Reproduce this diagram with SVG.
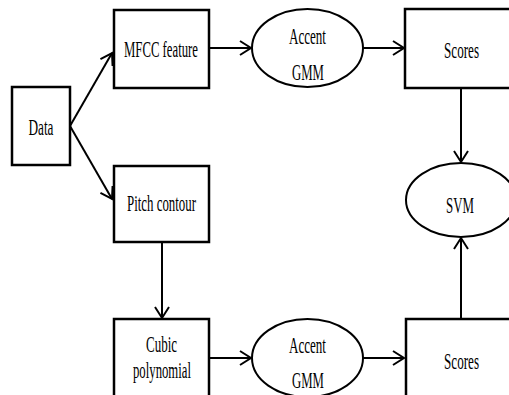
<svg xmlns="http://www.w3.org/2000/svg" width="509" height="395" viewBox="0 0 509 395">
<defs>
<style>
.box{fill:#fff;stroke:#000;stroke-width:2.5}
.ell{fill:#fff;stroke:#000;stroke-width:2}
.t{font-family:"Liberation Serif","Times New Roman",serif;font-size:23px;fill:#000;text-anchor:middle}
.c{fill:none;stroke:#000;stroke-width:2}
</style>
<marker id="ah" markerUnits="userSpaceOnUse" markerWidth="16" markerHeight="18" refX="12" refY="8" orient="auto">
<path d="M1,1 L12,8 L1,15" fill="none" stroke="#000" stroke-width="2"/>
</marker>
</defs>
<rect width="509" height="395" fill="#fff"/>
<g id="connectors">
<line class="c" x1="70" y1="126" x2="112" y2="53" marker-end="url(#ah)"/>
<line class="c" x1="70" y1="126" x2="112" y2="199" marker-end="url(#ah)"/>
<line class="c" x1="209" y1="48" x2="251" y2="48" stroke-width="2.5" marker-end="url(#ah)"/>
<line class="c" x1="363" y1="48" x2="404" y2="48" stroke-width="2.5" marker-end="url(#ah)"/>
<line class="c" x1="461" y1="88" x2="461" y2="162" stroke-width="1.5" marker-end="url(#ah)"/>
<line class="c" x1="162" y1="242" x2="162" y2="318" stroke-width="1.5" marker-end="url(#ah)"/>
<line class="c" x1="209" y1="358" x2="251" y2="358" stroke-width="2.5" marker-end="url(#ah)"/>
<line class="c" x1="363" y1="358" x2="404" y2="358" stroke-width="2.5" marker-end="url(#ah)"/>
<line class="c" x1="461" y1="318" x2="461" y2="238" stroke-width="1.5" marker-end="url(#ah)"/>
</g>
<g id="data">
<rect class="box" x="12" y="87" width="58" height="78"/>
<text class="t" x="41" y="135" textLength="25" lengthAdjust="spacingAndGlyphs">Data</text>
</g>
<g id="mfcc">
<rect class="box" x="114" y="10" width="95" height="78"/>
<text class="t" x="161" y="57" textLength="74" lengthAdjust="spacingAndGlyphs">MFCC feature</text>
</g>
<g id="gmm1">
<ellipse class="ell" cx="307.5" cy="48" rx="55.5" ry="39"/>
<text class="t" x="307.5" y="44" textLength="37" lengthAdjust="spacingAndGlyphs">Accent</text>
<text class="t" x="308" y="80" textLength="32" lengthAdjust="spacingAndGlyphs">GMM</text>
</g>
<g id="scores1">
<rect class="box" x="405" y="9" width="108" height="79"/>
<text class="t" x="461.5" y="58" textLength="35" lengthAdjust="spacingAndGlyphs">Scores</text>
</g>
<g id="svm">
<ellipse class="ell" cx="461" cy="200" rx="55" ry="37"/>
<text class="t" x="460" y="213" textLength="28" lengthAdjust="spacingAndGlyphs">SVM</text>
</g>
<g id="pitch">
<rect class="box" x="114" y="166" width="95" height="76"/>
<text class="t" x="161.5" y="211" textLength="69" lengthAdjust="spacingAndGlyphs">Pitch contour</text>
</g>
<g id="cubic">
<rect class="box" x="114" y="319" width="95" height="85" stroke-width="3"/>
<text class="t" x="161.5" y="352" textLength="31" lengthAdjust="spacingAndGlyphs">Cubic</text>
<text class="t" x="162" y="378" textLength="58" lengthAdjust="spacingAndGlyphs">polynomial</text>
</g>
<g id="gmm2">
<ellipse class="ell" cx="307.5" cy="358" rx="55.5" ry="39"/>
<text class="t" x="307.5" y="353" textLength="37" lengthAdjust="spacingAndGlyphs">Accent</text>
<text class="t" x="308" y="388" textLength="32" lengthAdjust="spacingAndGlyphs">GMM</text>
</g>
<g id="scores2">
<rect class="box" x="406" y="319" width="108" height="85" stroke-width="3"/>
<text class="t" x="461.5" y="369" textLength="35" lengthAdjust="spacingAndGlyphs">Scores</text>
</g>
</svg>
